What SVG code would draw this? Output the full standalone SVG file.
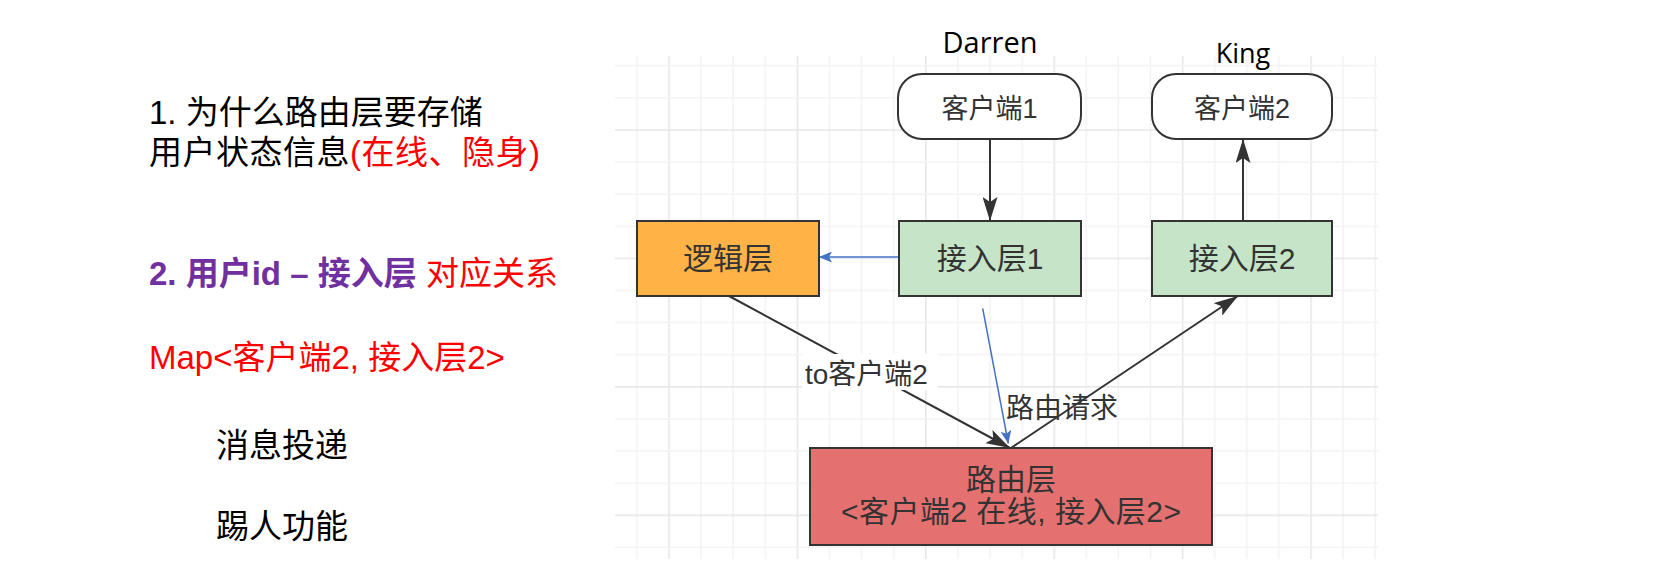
<svg xmlns="http://www.w3.org/2000/svg" width="1675" height="588" viewBox="0 0 1675 588">
<style>
.t{font-family:"Liberation Sans","Noto Sans CJK SC",sans-serif}
.lt{font-size:33px;fill:#000}
.red{fill:#FF0000}
.pur{fill:#7030A0;font-weight:bold}
.nl{font-size:30px;fill:#333;text-anchor:middle}
.cl{font-size:27px;fill:#333;text-anchor:middle}
.el{font-size:28px;fill:#333}
.nm{font-family:"Open Sans","Liberation Sans",sans-serif;fill:#000;text-anchor:middle}
.box{stroke:#333;stroke-width:2}
.edge{fill:none;stroke:#333;stroke-width:2}
.blue{fill:none;stroke:#4472C4;stroke-width:1.5}
</style>
<defs>
<pattern id="grid" patternUnits="userSpaceOnUse" x="668.25" y="129.25" width="128.4" height="128.4">
<rect x="0" y="0" width="1.5" height="128.4" fill="#E6E6E6"/>
<rect x="32.1" y="0" width="1.5" height="128.4" fill="#F2F2F2"/>
<rect x="64.2" y="0" width="1.5" height="128.4" fill="#F2F2F2"/>
<rect x="96.3" y="0" width="1.5" height="128.4" fill="#F2F2F2"/>
<rect x="0" y="0" width="128.4" height="1.5" fill="#E6E6E6"/>
<rect x="0" y="32.1" width="128.4" height="1.5" fill="#F2F2F2"/>
<rect x="0" y="64.2" width="128.4" height="1.5" fill="#F2F2F2"/>
<rect x="0" y="96.3" width="128.4" height="1.5" fill="#F2F2F2"/>
</pattern>
<marker id="ad" markerUnits="userSpaceOnUse" viewBox="0 0 24 15" refX="24" refY="7.5" markerWidth="24" markerHeight="15" orient="auto">
<path d="M0,0 L24,7.5 L0,15 L5,7.5 Z" fill="#333"/>
</marker>
<marker id="ab" markerUnits="userSpaceOnUse" viewBox="0 0 13 11" refX="13" refY="5.5" markerWidth="13" markerHeight="11" orient="auto">
<path d="M0,0 L13,5.5 L0,11 L3,5.5 Z" fill="#4472C4"/>
</marker>
</defs>
<rect width="1675" height="588" fill="#fff"/>
<rect x="615" y="56" width="763" height="503" fill="url(#grid)"/>

<g id="notes" class="t">
<text class="lt" x="149" y="124">1. 为什么路由层要存储</text>
<text class="lt" x="149" y="163.5" textLength="391" lengthAdjust="spacing">用户状态信息<tspan class="red">(在线、隐身)</tspan></text>
<text class="lt" x="149" y="285"><tspan class="pur">2. 用户id – 接入层</tspan><tspan class="red"> 对应关系</tspan></text>
<text class="lt red" x="149" y="369">Map&lt;客户端2, 接入层2&gt;</text>
<text class="lt" x="216" y="457">消息投递</text>
<text class="lt" x="216" y="538">踢人功能</text>
</g>

<g id="edges">
<line class="edge" x1="990" y1="139" x2="990" y2="221" marker-end="url(#ad)"/>
<line class="edge" x1="1243" y1="221" x2="1243" y2="139" marker-end="url(#ad)"/>
<line class="blue" x1="899" y1="257" x2="819" y2="257" marker-end="url(#ab)"/>
<line class="edge" x1="729" y1="296" x2="1010" y2="448" marker-end="url(#ad)"/>
<line class="edge" x1="1011" y1="448" x2="1238" y2="296" marker-end="url(#ad)"/>
<line class="blue" x1="982.7" y1="308.3" x2="1008.3" y2="443.5" marker-end="url(#ab)"/>
<rect x="802" y="354" width="136" height="36" fill="#fff"/>
<text class="t el" x="805" y="384">to客户端2</text>
<text class="t el" x="1006" y="417.5">路由请求</text>
</g>

<g id="darren"><text class="nm" x="990" y="53" font-size="29">Darren</text></g>
<g id="king"><text class="nm" x="1243" y="63" font-size="27">King</text></g>

<g id="client1">
<rect class="box" x="898" y="74" width="183" height="65" rx="24" fill="#fff"/>
<text class="t cl" x="989.5" y="118">客户端1</text>
</g>
<g id="client2">
<rect class="box" x="1152" y="74" width="180" height="65" rx="24" fill="#fff"/>
<text class="t cl" x="1242" y="118">客户端2</text>
</g>
<g id="logic">
<rect class="box" x="637" y="221" width="182" height="75" fill="#FFB347"/>
<text class="t nl" x="728" y="268.5">逻辑层</text>
</g>
<g id="access1">
<rect class="box" x="899" y="221" width="182" height="75" fill="#C6E5C8"/>
<text class="t nl" x="990" y="268.5">接入层1</text>
</g>
<g id="access2">
<rect class="box" x="1152" y="221" width="180" height="75" fill="#C6E5C8"/>
<text class="t nl" x="1242" y="268.5">接入层2</text>
</g>
<g id="router">
<rect class="box" x="810" y="448" width="402" height="97" fill="#E57070"/>
<text class="t nl" x="1011" y="489.5">路由层</text>
<text class="t nl" x="1011" y="522" textLength="340" lengthAdjust="spacing">&lt;客户端2 在线, 接入层2&gt;</text>
</g>
</svg>
